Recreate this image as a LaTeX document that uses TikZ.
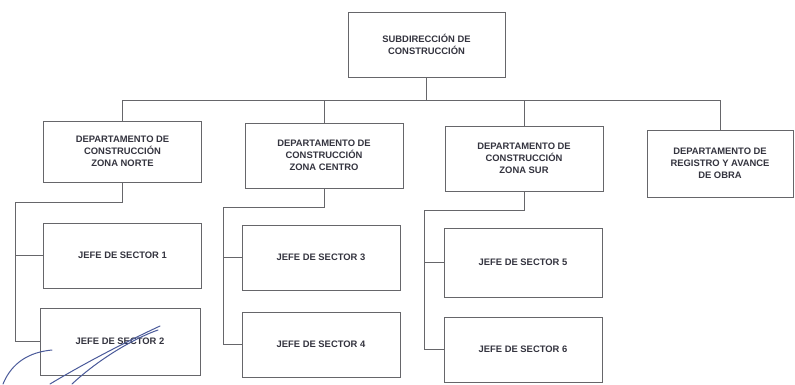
\documentclass[tikz,border=0pt]{standalone}
\usepackage{fontspec}
\setmainfont{Liberation Sans}
\begin{document}
\begin{tikzpicture}[x=1pt,y=-1pt,
  font=\fontsize{9.4}{11.8}\selectfont\bfseries,
  box/.style={draw=linegray, line width=0.9pt, text=inkgray, align=center,
    inner sep=0pt, minimum width=158pt, minimum height=65pt},
  link/.style={draw=linegray, line width=0.9pt},
  ink/.style={draw=penblue, line width=1pt, line cap=round}]
\definecolor{linegray}{HTML}{66666A}
\definecolor{inkgray}{HTML}{34343F}
\definecolor{penblue}{HTML}{4A5A9A}
\useasboundingbox[fill=white] (0,0) rectangle (795,384);

% head of the area
\node[box, minimum width=157pt] (top) at (426.5,44.5) {SUBDIRECCIÓN DE\\CONSTRUCCIÓN};

% departments
\node[box, minimum height=61pt] (d1) at (122.5,151.5) {DEPARTAMENTO DE\\CONSTRUCCIÓN\\ZONA NORTE};
\node[box] (d2) at (324,155.5) {DEPARTAMENTO DE\\CONSTRUCCIÓN\\ZONA CENTRO};
\node[box] (d3) at (524,158.5) {DEPARTAMENTO DE\\CONSTRUCCIÓN\\ZONA SUR};
\node[box, minimum width=146pt, minimum height=67pt] (d4) at (720,163.5) {DEPARTAMENTO DE\\REGISTRO Y AVANCE\\DE OBRA};

% sector heads
\node[box] (s1) at (122.5,255.5) {JEFE DE SECTOR 1};
\node[box, minimum width=160pt, minimum height=67pt] (s2) at (120,341.5) {JEFE DE SECTOR 2};
\node[box] (s3) at (321,257.5) {JEFE DE SECTOR 3};
\node[box] (s4) at (321,344.5) {JEFE DE SECTOR 4};
\node[box, minimum height=69pt] (s5) at (523,262.5) {JEFE DE SECTOR 5};
\node[box] (s6) at (523,349.5) {JEFE DE SECTOR 6};

% bus under the head
\coordinate (bus) at (426.5,100);
\draw[link] (top.south) -- (bus);
\draw[link] (bus) -| (d1.north);
\draw[link] (bus) -| (d2.north);
\draw[link] (bus) -| (d3.north);
\draw[link] (bus) -| (d4.north);

% branches down to the sector heads
\coordinate (t1) at (15,202);
\coordinate (t2) at (223,207);
\coordinate (t3) at (424,210);
\draw[link] (d1.south) |- (t1) |- (s2.west);
\draw[link] (t1) |- (s1.west);
\draw[link] (d2.south) |- (t2) |- (s4.west);
\draw[link] (t2) |- (s3.west);
\draw[link] (d3.south) |- (t3) |- (s6.west);
\draw[link] (t3) |- (s5.west);

% handwritten signature strokes
\draw[ink] (3,384) .. controls (12,362) and (30,352) .. (52,350);
\draw[ink] (50,384) .. controls (90,360) and (130,340) .. (160,326);
\draw[ink] (72,384) .. controls (100,358) and (135,338) .. (158,330);
\end{tikzpicture}
\end{document}
